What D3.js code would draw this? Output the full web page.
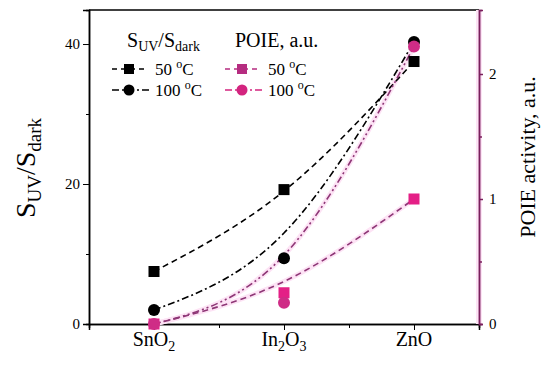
<!DOCTYPE html>
<head>
  <meta charset="utf-8">
  <title>Sensitivity and POIE</title>
  <script src="https://d3js.org/d3.v7.min.js"></script>
  <style>
    body { margin: 0; background: #fff; }
  </style>
</head>
<body>
<svg id="chart" width="550" height="367"></svg>
<script>
// categories (oxides) with subscript digit
var categories = [["SnO", "2"], ["In", "2", "O", "3"], ["ZnO"]];
var catPos = [1, 2, 3];

// S_UV/S_dark measured points
var s50 = [7.5, 19.2, 37.5];
var s100 = [2.0, 9.4, 40.3];
// POIE activity, a.u.
var p50 = [0.0, 0.25, 1.0];
var p100 = [0.0, 0.17, 2.22];

// fitted trend curves read at each category
var s50fit = [7.5, 19.0, 37.5];
var s100fit = [2.0, 13.0, 40.3];
var p50fit = [0.0, 0.34, 1.0];
var p100fit = [0.0, 0.55, 2.22];

var leftTicks = [0, 20, 40];
var leftMinor = [10, 30];
var rightTicks = [0, 1, 2];
var rightMinor = [0.5, 1.5];

var serif = "'Liberation Serif'";
var svg = d3.select("#chart").style("font-family", serif);
var pL = 89, pR = 479, pT = 10, pB = 324;

var x = d3.scaleLinear().domain([0.5, 3.5]).range([pL, pR]);
var yL = d3.scaleLinear().domain([0, 44.86]).range([pB, pT]);
var yR = d3.scaleLinear().domain([0, 2.512]).range([pB, pT]);

var purple = "#8e3676", pinkHalo = "#fde3f5", axisPurple = "#7a1f5c";

function txt(sel) { return sel.append("text").style("font-family", serif); }

// frame
svg.append("line").attr("x1", pL).attr("x2", pR).attr("y1", pT).attr("y2", pT)
  .attr("stroke", "#000").attr("stroke-width", 1.5);

// left axis
var gL = svg.append("g").attr("transform", "translate(" + pL + ",0)")
  .call(d3.axisLeft(yL).tickValues(leftTicks).tickSize(6).tickPadding(3));
gL.append("g").call(d3.axisLeft(yL).tickValues(leftMinor).tickSize(3).tickFormat(""));
gL.selectAll(".domain").attr("stroke-width", 1.5);
gL.selectAll("text").style("font-family", serif).style("font-size", "15px");

// bottom axis
var gB = svg.append("g").attr("transform", "translate(0," + pB + ")")
  .call(d3.axisBottom(x).tickValues(catPos).tickSize(6).tickFormat(""));
gB.append("g").call(d3.axisBottom(x).tickValues([1.5, 2.5]).tickSize(4).tickFormat(""));
gB.selectAll(".domain").attr("stroke-width", 1.5);

categories.forEach(function (c, i) {
  var t = txt(svg).attr("x", x(catPos[i])).attr("y", 351)
    .attr("text-anchor", "middle").attr("font-size", 20);
  c.forEach(function (part) {
    if (/^\d$/.test(part)) t.append("tspan").attr("font-size", 14).attr("dy", 5).text(part);
    else t.append("tspan").attr("dy", t.selectAll("tspan").size() ? -5 : 0).text(part);
  });
});

// right axis
svg.append("line").attr("x1", pR).attr("x2", pR).attr("y1", pT).attr("y2", pB)
  .attr("stroke", pinkHalo).attr("stroke-width", 6);
var gR = svg.append("g").attr("transform", "translate(" + pR + ",0)")
  .call(d3.axisRight(yR).tickValues(rightTicks).tickSize(4).tickPadding(6).tickFormat(d3.format("d")));
gR.append("g").call(d3.axisRight(yR).tickValues(rightMinor).tickSize(3).tickFormat(""));
gR.selectAll(".domain, line").attr("stroke", axisPurple).attr("stroke-width", 1.5);
gR.selectAll("text").style("font-family", serif).style("font-size", "15px");

// axis titles
var tl = txt(svg).attr("transform", "translate(35,168) rotate(-90)")
  .attr("text-anchor", "middle").attr("font-size", 28);
tl.append("tspan").text("S");
tl.append("tspan").attr("font-size", 19).attr("dy", 6).text("UV");
tl.append("tspan").attr("dy", -6).text("/S");
tl.append("tspan").attr("font-size", 19).attr("dy", 6).text("dark");

txt(svg).attr("transform", "translate(535,157) rotate(-90)")
  .attr("text-anchor", "middle").attr("font-size", 22)
  .text("POIE activity, a.u.");

// curves
var lineL = d3.line().x(function (d, i) { return x(catPos[i]); }).y(function (d) { return yL(d); })
  .curve(d3.curveNatural);
var lineR = d3.line().x(function (d, i) { return x(catPos[i]); }).y(function (d) { return yR(d); })
  .curve(d3.curveNatural);

[p50fit, p100fit].forEach(function (f) {
  svg.append("path").attr("d", lineR(f)).attr("fill", "none")
    .attr("stroke", pinkHalo).attr("stroke-width", 5);
});
svg.append("path").attr("d", lineL(s50fit)).attr("fill", "none").attr("stroke", "#000")
  .attr("stroke-width", 1.6).attr("stroke-dasharray", "6,4");
svg.append("path").attr("d", lineL(s100fit)).attr("fill", "none").attr("stroke", "#000")
  .attr("stroke-width", 1.6).attr("stroke-dasharray", "7,3,2,3");
svg.append("path").attr("d", lineR(p50fit)).attr("fill", "none").attr("stroke", purple)
  .attr("stroke-width", 1.6).attr("stroke-dasharray", "6,4");
svg.append("path").attr("d", lineR(p100fit)).attr("fill", "none").attr("stroke", purple)
  .attr("stroke-width", 1.6).attr("stroke-dasharray", "7,3,2,3,2,3");

// markers
function squares(data, yS, fill) {
  svg.selectAll(null).data(data).enter().append("rect")
    .attr("x", function (d, i) { return x(catPos[i]) - 5.5; })
    .attr("y", function (d) { return yS(d) - 5.5; })
    .attr("width", 11).attr("height", 11).attr("fill", fill);
}
function circles(data, yS, fill) {
  svg.selectAll(null).data(data).enter().append("circle")
    .attr("cx", function (d, i) { return x(catPos[i]); })
    .attr("cy", function (d) { return yS(d); })
    .attr("r", 6).attr("fill", fill);
}
squares(s50, yL, "#000");
circles(s100, yL, "#000");
squares(p50, yR, "#e41f86");
circles(p100, yR, "#cf2c86");

// legend
function legendTitleS(xp, yp) {
  var t = txt(svg).attr("x", xp).attr("y", yp).attr("font-size", 20);
  t.append("tspan").text("S");
  t.append("tspan").attr("font-size", 14).attr("dy", 4).text("UV");
  t.append("tspan").attr("dy", -4).text("/S");
  t.append("tspan").attr("font-size", 14).attr("dy", 4).text("dark");
}
legendTitleS(127, 47);
txt(svg).attr("x", 235).attr("y", 47).attr("font-size", 20).text("POIE, a.u.");

function legendEntry(x0, x1, xm, yy, color, dash, shape, label, xt) {
  svg.append("line").attr("x1", x0).attr("x2", x1).attr("y1", yy).attr("y2", yy)
    .attr("stroke", color).attr("stroke-width", 1.6).attr("stroke-dasharray", dash);
  if (shape === "sq") svg.append("rect").attr("x", xm - 5).attr("y", yy - 5).attr("width", 10).attr("height", 10).attr("fill", color);
  else svg.append("circle").attr("cx", xm).attr("cy", yy).attr("r", 5.5).attr("fill", color);
  var t = txt(svg).attr("x", xt).attr("y", yy + 6).attr("font-size", 17);
  t.append("tspan").text(label + " ");
  t.append("tspan").attr("font-size", 12).attr("dy", -7).text("o");
  t.append("tspan").attr("dy", 7).text("C");
}
legendEntry(112, 145, 129, 69, "#000", "5,4", "sq", "50", 155);
legendEntry(112, 150, 129, 90, "#000", "7,3,2,3", "ci", "100", 155);
legendEntry(225, 258, 242, 69, "#b52c80", "5,4", "sq", "50", 268);
legendEntry(225, 262, 242, 90, "#d3247f", "7,3,2,3", "ci", "100", 268);
</script>
</body>
</html>
